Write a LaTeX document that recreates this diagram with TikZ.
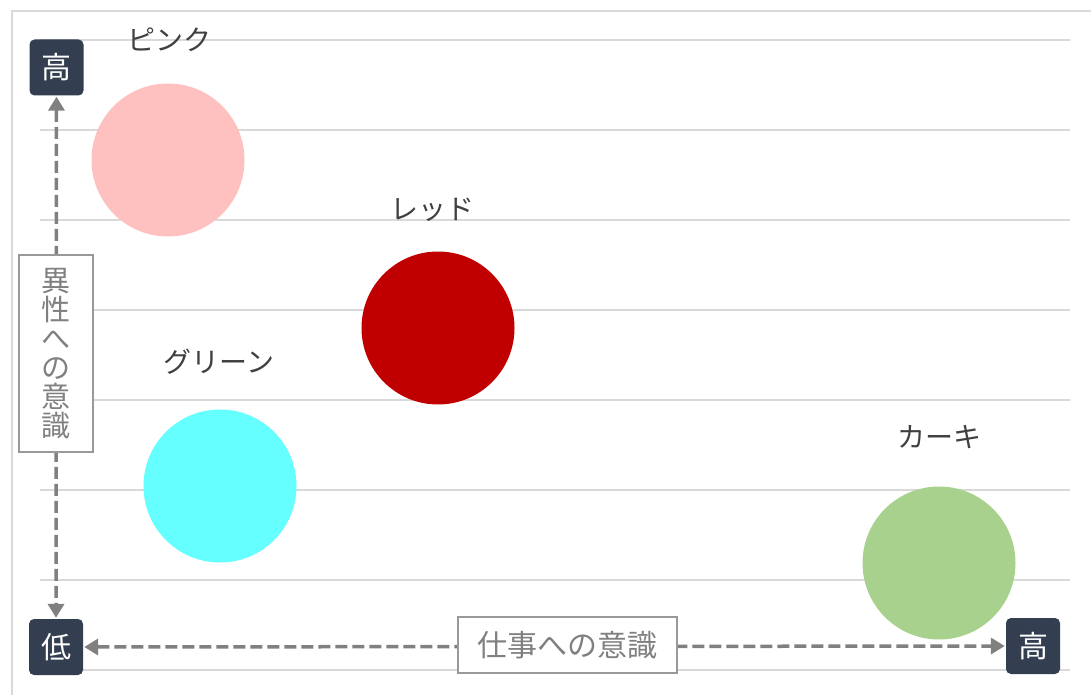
\documentclass[tikz,border=0pt]{standalone}
\usepackage{fontspec}
\setmainfont{Noto Sans CJK JP}
\usetikzlibrary{arrows.meta}
\definecolor{gridc}{HTML}{D9D9D9}
\definecolor{boxc}{HTML}{333F50}
\definecolor{arrc}{HTML}{808080}
\definecolor{lblc}{HTML}{404040}
\definecolor{pinkc}{HTML}{FFC0C0}
\definecolor{redc}{HTML}{C00000}
\definecolor{cyanc}{HTML}{66FFFF}
\definecolor{khakic}{HTML}{A9D18E}
\tikzset{
  endbox/.style={fill=boxc, rounded corners=5pt, minimum width=54pt, minimum height=56pt, inner sep=0pt, text=white, font=\fontsize{30}{32}\selectfont},
  axislbl/.style={draw=arrc!80, line width=1.2pt, fill=white, text=arrc, inner sep=0pt},
  axisarrow/.style={draw=arrc, line width=3.5pt, dash pattern=on 12pt off 5pt, {Triangle[length=14pt,width=16pt]}-{Triangle[length=14pt,width=16pt]}, shorten <=1pt, shorten >=1pt},
  bubble/.style={circle, minimum size=153pt, inner sep=0pt},
  bubblelbl/.style={text=lblc, font=\fontsize{28}{30}\selectfont},
  gridline/.style={draw=gridc, line width=2pt}
}
\begin{document}
\begin{tikzpicture}[x=1pt,y=-1pt]
\useasboundingbox (0,0) rectangle (1091,695);
\draw[gridc, line width=2pt] (12,700) -- (12,11) -- (1095,11);
\foreach \yy in {40,130,220,310,400,490,580,670} \draw[gridline] (40,\yy) -- (1070,\yy);
% bubbles
\node[bubble, fill=pinkc] (pink) at (168,160) {};
\node[bubble, fill=redc] (red) at (438,328) {};
\node[bubble, fill=cyanc] (green) at (220,486) {};
\node[bubble, fill=khakic] (khaki) at (939,563) {};
\node[bubblelbl] (pinkl) at (169,40) {ピンク};
\node[bubblelbl] (redl) at (432,210) {レッド};
\node[bubblelbl] (greenl) at (219,362) {グリーン};
\node[bubblelbl] (khakil) at (939,437) {カーキ};
% axes
\node[endbox] (hiy) at (56.5,67.5) {高};
\node[endbox] (lo) at (56,647) {低};
\node[endbox] (hix) at (1033,646) {高};
\draw[axisarrow] (hiy.south) -- (lo.north);
\draw[axisarrow] (lo.east) -- (hix.west);
\node[axislbl, minimum width=74pt, minimum height=197pt, align=center, font=\fontsize{29}{29}\selectfont] (ylbl) at (56,353.5) {異\\性\\へ\\の\\意\\識};
\node[axislbl, minimum width=219pt, minimum height=56pt, font=\fontsize{30}{32}\selectfont] (xlbl) at (567.5,645) {仕事への意識};
\end{tikzpicture}
\end{document}
